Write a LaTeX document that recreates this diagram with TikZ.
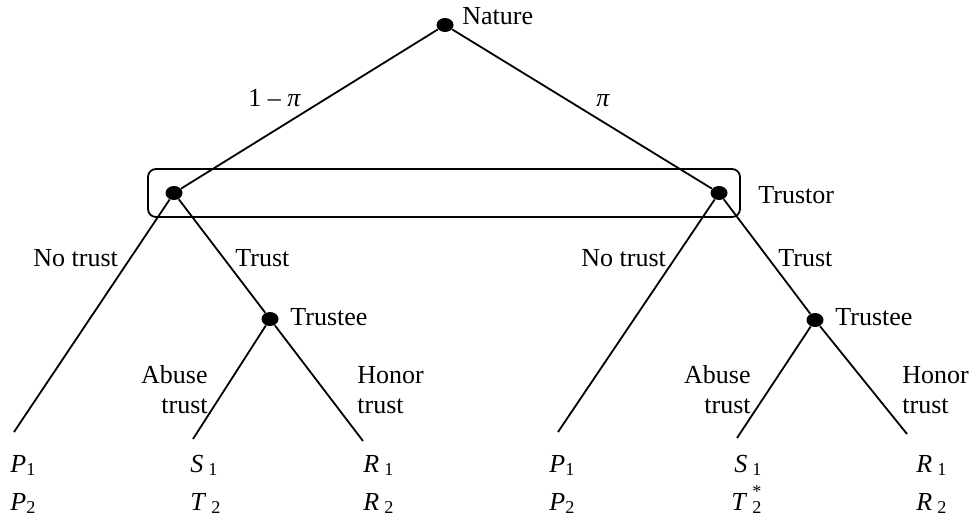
\documentclass[tikz,border=0pt]{standalone}
\usepackage{fontspec}
\setmainfont{Liberation Serif}
\usetikzlibrary{shapes.geometric}
\begin{document}
\begin{tikzpicture}[
    x=0.5pt, y=-0.5pt,
    every node/.style={font=\fontsize{13}{15}\selectfont},
    decision/.style={ellipse, fill=black, inner sep=0pt, minimum width=8.5pt, minimum height=7pt},
    branch/.style={line width=0.9pt},
    infoset/.style={draw, line width=0.9pt, rounded corners=4pt},
    tag/.style={anchor=base west, inner sep=0pt},
    abuselabel/.style={anchor=east, align=right, inner sep=0pt},
    honorlabel/.style={anchor=west, align=left, inner sep=0pt},
    ]
    \useasboundingbox (0,0) rectangle (972,518);
    \node[decision] (nature) at (445,25) {};
    \node[decision] (trustorL) at (174,193) {};
    \node[decision] (trustorR) at (719,193) {};
    \node[decision] (trusteeL) at (270,319) {};
    \node[decision] (trusteeR) at (815,320) {};
    \coordinate (notrustL) at (14,432);
    \coordinate (abuseL) at (193,439);
    \coordinate (honorL) at (363,441);
    \coordinate (notrustR) at (558,432);
    \coordinate (abuseR) at (737,438);
    \coordinate (honorR) at (907,434);
    \draw[infoset] (148,169) rectangle (740,217);
    \draw[branch] (nature) -- (trustorL);
    \draw[branch] (nature) -- (trustorR);
    \draw[branch] (trustorL) -- (notrustL);
    \draw[branch] (trustorL) -- (trusteeL);
    \draw[branch] (trusteeL) -- (abuseL);
    \draw[branch] (trusteeL) -- (honorL);
    \draw[branch] (trustorR) -- (notrustR);
    \draw[branch] (trustorR) -- (trusteeR);
    \draw[branch] (trusteeR) -- (abuseR);
    \draw[branch] (trusteeR) -- (honorR);
    \node[tag] (naturetext) at (462,25) {Nature};
    \node[tag] (trustortext) at (758,203) {Trustor};
    \node[tag] (trusteetextL) at (290,325) {Trustee};
    \node[tag] (trusteetextR) at (835,325) {Trustee};
    \node[tag] (probL) at (248,107) {1 – \textit{π}};
    \node[tag] (probR) at (596,107) {\textit{π}};
    \node[tag] (notrusttextL) at (33,266) {No trust};
    \node[tag] (trusttextL) at (235,266) {Trust};
    \node[tag] (notrusttextR) at (581,266) {No trust};
    \node[tag] (trusttextR) at (778,266) {Trust};
    \node[abuselabel] (abusetextL) at (208,390) {Abuse\\trust};
    \node[honorlabel] (honortextL) at (357,390) {Honor\\trust};
    \node[abuselabel] (abusetextR) at (751,390) {Abuse\\trust};
    \node[honorlabel] (honortextR) at (902,390) {Honor\\trust};
    \node[tag] (payA1) at (10,472) {\textit{P}\textsubscript{1}};
    \node[tag] (payA2) at (10,510) {\textit{P}\textsubscript{2}};
    \node[tag] (payB1) at (190,472) {\textit{S}\hspace{2.5pt}\textsubscript{1}};
    \node[tag] (payB2) at (190,510) {\textit{T}\hspace{2.5pt}\textsubscript{2}};
    \node[tag] (payC1) at (363,472) {\textit{R}\hspace{2.5pt}\textsubscript{1}};
    \node[tag] (payC2) at (363,510) {\textit{R}\hspace{2.5pt}\textsubscript{2}};
    \node[tag] (payD1) at (549,472) {\textit{P}\textsubscript{1}};
    \node[tag] (payD2) at (549,510) {\textit{P}\textsubscript{2}};
    \node[tag] (payE1) at (734,472) {\textit{S}\hspace{2.5pt}\textsubscript{1}};
    \node[tag] (payE2) at (731,510) {\textit{T}\hspace{2.5pt}\rlap{\textsubscript{2}}\raisebox{2pt}{\textsuperscript{*}}};
    \node[tag] (payF1) at (916,472) {\textit{R}\hspace{2.5pt}\textsubscript{1}};
    \node[tag] (payF2) at (916,510) {\textit{R}\hspace{2.5pt}\textsubscript{2}};
\end{tikzpicture}
\end{document}
